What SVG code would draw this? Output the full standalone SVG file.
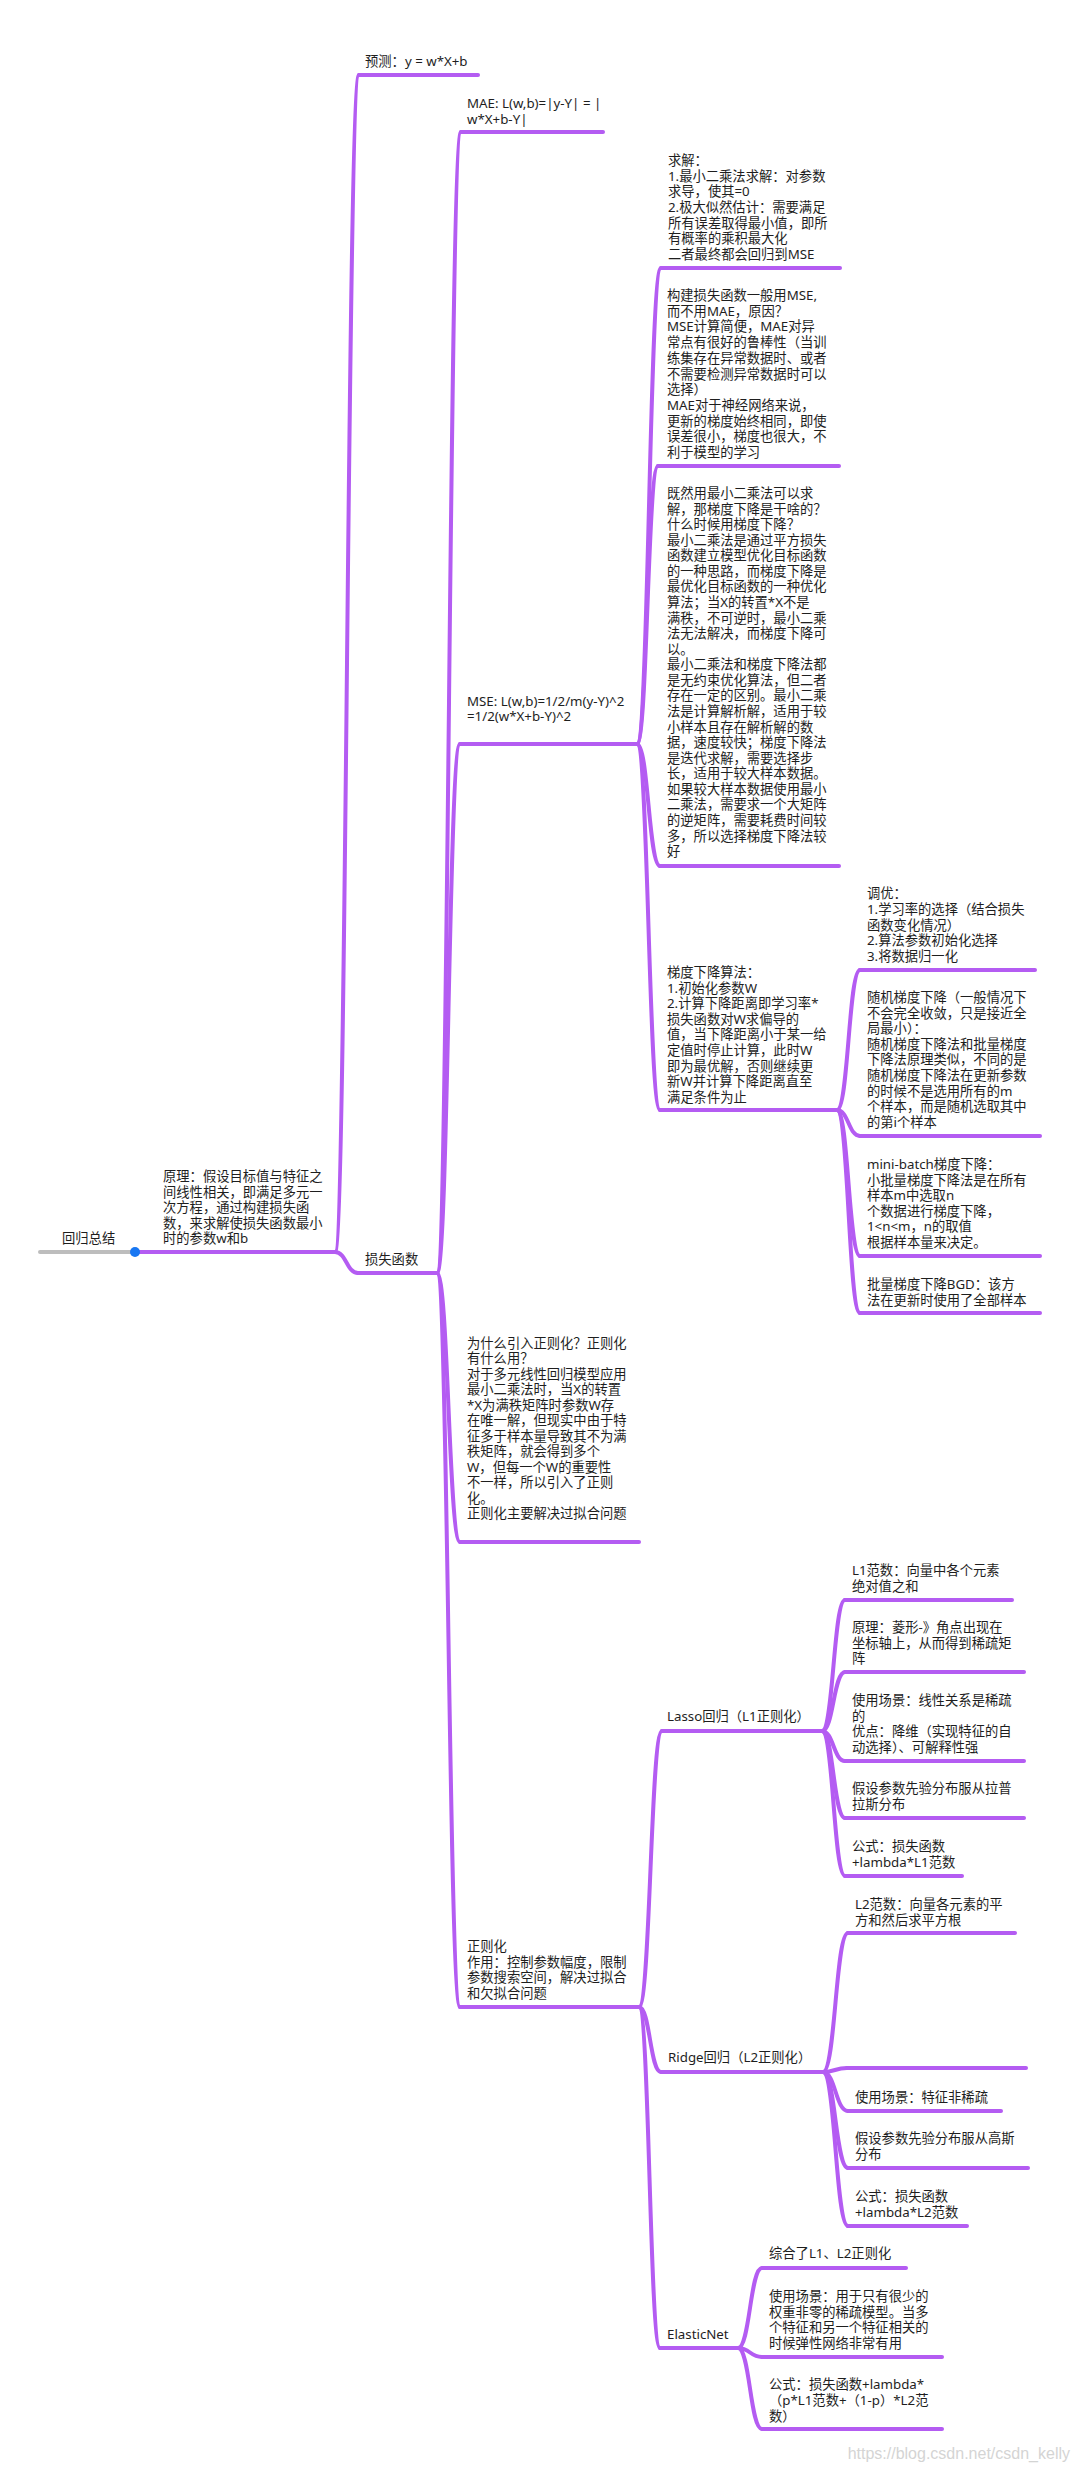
<svg xmlns="http://www.w3.org/2000/svg" width="1080" height="2471" viewBox="0 0 1080 2471">
<style>
text{font-family:"Noto Sans","Noto Sans CJK SC",sans-serif;font-size:13.3px;fill:#1e1e1e}
.u{stroke:#B45CF2;stroke-width:4;stroke-linecap:round;fill:none}
.c path{stroke:#B45CF2;stroke-width:4;stroke-linecap:round;fill:none}
.wm{font-family:"Liberation Sans",sans-serif;font-size:16px;fill:#d4d4d4}
</style>
<rect width="1080" height="2471" fill="#fff"/>
<g id="connectors" class="c">
<path d="M335 1252 C347 1252 347 75 359 75"/>
<path d="M335 1252 C346.5 1252 346.5 1273 358 1273"/>
<path d="M437 1273 C449 1273 449 132 461 132"/>
<path d="M437 1273 C448.5 1273 448.5 744 460 744"/>
<path d="M437 1273 C448.5 1273 448.5 1542 460 1542"/>
<path d="M437 1273 C448.5 1273 448.5 2007 460 2007"/>
<path d="M637 744 C649 744 649 268 661 268"/>
<path d="M637 744 C647.5 744 647.5 466 658 466"/>
<path d="M637 744 C648.5 744 648.5 866 660 866"/>
<path d="M637 744 C648.5 744 648.5 1110 660 1110"/>
<path d="M837 1110 C848.5 1110 848.5 970 860 970"/>
<path d="M837 1110 C848.5 1110 848.5 1136 860 1136"/>
<path d="M837 1110 C848.5 1110 848.5 1256 860 1256"/>
<path d="M837 1110 C848.5 1110 848.5 1313 860 1313"/>
<path d="M639 2007 C650.5 2007 650.5 1731 662 1731"/>
<path d="M639 2007 C650 2007 650 2072 661 2072"/>
<path d="M639 2007 C649.5 2007 649.5 2348 660 2348"/>
<path d="M822 1731 C833.5 1731 833.5 1600 845 1600"/>
<path d="M822 1731 C833.5 1731 833.5 1672 845 1672"/>
<path d="M822 1731 C833.5 1731 833.5 1761 845 1761"/>
<path d="M822 1731 C833.5 1731 833.5 1818 845 1818"/>
<path d="M822 1731 C833.5 1731 833.5 1876 845 1876"/>
<path d="M823 2072 C835.5 2072 835.5 1933 848 1933"/>
<path d="M823 2072 C835 2072 835 2068 847 2068"/>
<path d="M823 2072 C835.5 2072 835.5 2111 848 2111"/>
<path d="M823 2072 C835.5 2072 835.5 2168 848 2168"/>
<path d="M823 2072 C835.5 2072 835.5 2226 848 2226"/>
<path d="M738 2348 C750 2348 750 2268 762 2268"/>
<path d="M738 2348 C750 2348 750 2357 762 2357"/>
<path d="M738 2348 C750 2348 750 2429 762 2429"/>
</g>

<g id="root">
<line x1="40" y1="1252" x2="135" y2="1252" stroke="#BDBDBD" stroke-width="4" stroke-linecap="round"/>
<text x="62" y="1243">回归总结</text>
</g>
<g id="n-yuanli">
<line class="u" x1="135" y1="1252" x2="335" y2="1252"/>
<text x="163" y="1181">原理：假设目标值与特征之<tspan x="163" dy="15.5">间线性相关，即满足多元一</tspan><tspan x="163" dy="15.5">次方程，通过构建损失函</tspan><tspan x="163" dy="15.5">数，来求解使损失函数最小</tspan><tspan x="163" dy="15.5">时的参数w和b</tspan></text>
</g>
<circle id="root-dot" cx="135" cy="1252" r="5" fill="#1877F2"/>
<g id="n-yuce">
<line class="u" x1="359" y1="75" x2="478" y2="75"/>
<text x="365" y="66">预测：y = w*X+b</text>
</g>
<g id="n-sunshi">
<line class="u" x1="358" y1="1273" x2="437" y2="1273"/>
<text x="365" y="1264">损失函数</text>
</g>
<g id="n-mae">
<line class="u" x1="461" y1="132" x2="603" y2="132"/>
<text x="467" y="108">MAE: L(w,b)=|y-Y| = |<tspan x="467" dy="15.5">w*X+b-Y|</tspan></text>
</g>
<g id="n-mse">
<line class="u" x1="460" y1="744" x2="637" y2="744"/>
<text x="467" y="706">MSE: L(w,b)=1/2/m(y-Y)^2<tspan x="467" dy="15">=1/2(w*X+b-Y)^2</tspan></text>
</g>
<g id="n-why">
<line class="u" x1="460" y1="1542" x2="639" y2="1542"/>
<text x="467" y="1348">为什么引入正则化？正则化<tspan x="467" dy="15.45">有什么用？</tspan><tspan x="467" dy="15.45">对于多元线性回归模型应用</tspan><tspan x="467" dy="15.45">最小二乘法时，当X的转置</tspan><tspan x="467" dy="15.45">*X为满秩矩阵时参数W存</tspan><tspan x="467" dy="15.45">在唯一解，但现实中由于特</tspan><tspan x="467" dy="15.45">征多于样本量导致其不为满</tspan><tspan x="467" dy="15.45">秩矩阵，就会得到多个</tspan><tspan x="467" dy="15.45">W，但每一个W的重要性</tspan><tspan x="467" dy="15.45">不一样，所以引入了正则</tspan><tspan x="467" dy="15.45">化。</tspan><tspan x="467" dy="15.45">正则化主要解决过拟合问题</tspan></text>
</g>
<g id="n-zhengze">
<line class="u" x1="460" y1="2007" x2="639" y2="2007"/>
<text x="467" y="1951">正则化<tspan x="467" dy="15.67">作用：控制参数幅度，限制</tspan><tspan x="467" dy="15.67">参数搜索空间，解决过拟合</tspan><tspan x="467" dy="15.67">和欠拟合问题</tspan></text>
</g>
<g id="n-qiujie">
<line class="u" x1="661" y1="268" x2="840" y2="268"/>
<text x="668" y="165">求解：<tspan x="668" dy="15.67">1.最小二乘法求解：对参数</tspan><tspan x="668" dy="15.67">求导，使其=0</tspan><tspan x="668" dy="15.67">2.极大似然估计：需要满足</tspan><tspan x="668" dy="15.67">所有误差取得最小值，即所</tspan><tspan x="668" dy="15.67">有概率的乘积最大化</tspan><tspan x="668" dy="15.67">二者最终都会回归到MSE</tspan></text>
</g>
<g id="n-goujian">
<line class="u" x1="658" y1="466" x2="839" y2="466"/>
<text x="667" y="300">构建损失函数一般用MSE,<tspan x="667" dy="15.7">而不用MAE，原因？</tspan><tspan x="667" dy="15.7">MSE计算简便，MAE对异</tspan><tspan x="667" dy="15.7">常点有很好的鲁棒性（当训</tspan><tspan x="667" dy="15.7">练集存在异常数据时、或者</tspan><tspan x="667" dy="15.7">不需要检测异常数据时可以</tspan><tspan x="667" dy="15.7">选择）</tspan><tspan x="667" dy="15.7">MAE对于神经网络来说，</tspan><tspan x="667" dy="15.7">更新的梯度始终相同，即使</tspan><tspan x="667" dy="15.7">误差很小，梯度也很大，不</tspan><tspan x="667" dy="15.7">利于模型的学习</tspan></text>
</g>
<g id="n-jiran">
<line class="u" x1="660" y1="866" x2="839" y2="866"/>
<text x="667" y="498">既然用最小二乘法可以求<tspan x="667" dy="15.57">解，那梯度下降是干啥的？</tspan><tspan x="667" dy="15.57">什么时候用梯度下降？</tspan><tspan x="667" dy="15.57">最小二乘法是通过平方损失</tspan><tspan x="667" dy="15.57">函数建立模型优化目标函数</tspan><tspan x="667" dy="15.57">的一种思路，而梯度下降是</tspan><tspan x="667" dy="15.57">最优化目标函数的一种优化</tspan><tspan x="667" dy="15.57">算法；当X的转置*X不是</tspan><tspan x="667" dy="15.57">满秩，不可逆时，最小二乘</tspan><tspan x="667" dy="15.57">法无法解决，而梯度下降可</tspan><tspan x="667" dy="15.57">以。</tspan><tspan x="667" dy="15.57">最小二乘法和梯度下降法都</tspan><tspan x="667" dy="15.57">是无约束优化算法，但二者</tspan><tspan x="667" dy="15.57">存在一定的区别。最小二乘</tspan><tspan x="667" dy="15.57">法是计算解析解，适用于较</tspan><tspan x="667" dy="15.57">小样本且存在解析解的数</tspan><tspan x="667" dy="15.57">据，速度较快；梯度下降法</tspan><tspan x="667" dy="15.57">是迭代求解，需要选择步</tspan><tspan x="667" dy="15.57">长，适用于较大样本数据。</tspan><tspan x="667" dy="15.57">如果较大样本数据使用最小</tspan><tspan x="667" dy="15.57">二乘法，需要求一个大矩阵</tspan><tspan x="667" dy="15.57">的逆矩阵，需要耗费时间较</tspan><tspan x="667" dy="15.57">多，所以选择梯度下降法较</tspan><tspan x="667" dy="15.57">好</tspan></text>
</g>
<g id="n-tidu">
<line class="u" x1="660" y1="1110" x2="837" y2="1110"/>
<text x="667" y="977">梯度下降算法：<tspan x="667" dy="15.6">1.初始化参数W</tspan><tspan x="667" dy="15.6">2.计算下降距离即学习率*</tspan><tspan x="667" dy="15.6">损失函数对W求偏导的</tspan><tspan x="667" dy="15.6">值，当下降距离小于某一给</tspan><tspan x="667" dy="15.6">定值时停止计算，此时W</tspan><tspan x="667" dy="15.6">即为最优解，否则继续更</tspan><tspan x="667" dy="15.6">新W并计算下降距离直至</tspan><tspan x="667" dy="15.6">满足条件为止</tspan></text>
</g>
<g id="n-tiaoyou">
<line class="u" x1="860" y1="970" x2="1035" y2="970"/>
<text x="867" y="898">调优：<tspan x="867" dy="15.75">1.学习率的选择（结合损失</tspan><tspan x="867" dy="15.75">函数变化情况）</tspan><tspan x="867" dy="15.75">2.算法参数初始化选择</tspan><tspan x="867" dy="15.75">3.将数据归一化</tspan></text>
</g>
<g id="n-sgd">
<line class="u" x1="860" y1="1136" x2="1040" y2="1136"/>
<text x="867" y="1002">随机梯度下降（一般情况下<tspan x="867" dy="15.6">不会完全收敛，只是接近全</tspan><tspan x="867" dy="15.6">局最小）：</tspan><tspan x="867" dy="15.6">随机梯度下降法和批量梯度</tspan><tspan x="867" dy="15.6">下降法原理类似，不同的是</tspan><tspan x="867" dy="15.6">随机梯度下降法在更新参数</tspan><tspan x="867" dy="15.6">的时候不是选用所有的m</tspan><tspan x="867" dy="15.6">个样本，而是随机选取其中</tspan><tspan x="867" dy="15.6">的第i个样本</tspan></text>
</g>
<g id="n-minibatch">
<line class="u" x1="860" y1="1256" x2="1040" y2="1256"/>
<text x="867" y="1169">mini-batch梯度下降：<tspan x="867" dy="15.6">小批量梯度下降法是在所有</tspan><tspan x="867" dy="15.6">样本m中选取n</tspan><tspan x="867" dy="15.6">个数据进行梯度下降，</tspan><tspan x="867" dy="15.6">1&lt;n&lt;m，n的取值</tspan><tspan x="867" dy="15.6">根据样本量来决定。</tspan></text>
</g>
<g id="n-bgd">
<line class="u" x1="860" y1="1313" x2="1040" y2="1313"/>
<text x="867" y="1289">批量梯度下降BGD：该方<tspan x="867" dy="15.5">法在更新时使用了全部样本</tspan></text>
</g>
<g id="n-lasso">
<line class="u" x1="662" y1="1731" x2="822" y2="1731"/>
<text x="667" y="1721">Lasso回归（L1正则化）</text>
</g>
<g id="n-l1">
<line class="u" x1="845" y1="1600" x2="1012" y2="1600"/>
<text x="852" y="1575">L1范数：向量中各个元素<tspan x="852" dy="15.7">绝对值之和</tspan></text>
</g>
<g id="n-lingxing">
<line class="u" x1="845" y1="1672" x2="1024" y2="1672"/>
<text x="852" y="1632">原理：菱形-》角点出现在<tspan x="852" dy="15.6">坐标轴上，从而得到稀疏矩</tspan><tspan x="852" dy="15.6">阵</tspan></text>
</g>
<g id="n-lasso-use">
<line class="u" x1="845" y1="1761" x2="1024" y2="1761"/>
<text x="852" y="1705">使用场景：线性关系是稀疏<tspan x="852" dy="15.7">的</tspan><tspan x="852" dy="15.7">优点：降维（实现特征的自</tspan><tspan x="852" dy="15.7">动选择）、可解释性强</tspan></text>
</g>
<g id="n-laplace">
<line class="u" x1="845" y1="1818" x2="1024" y2="1818"/>
<text x="852" y="1793">假设参数先验分布服从拉普<tspan x="852" dy="15.7">拉斯分布</tspan></text>
</g>
<g id="n-l1-formula">
<line class="u" x1="845" y1="1876" x2="962" y2="1876"/>
<text x="852" y="1851">公式：损失函数<tspan x="852" dy="15.7">+lambda*L1范数</tspan></text>
</g>
<g id="n-ridge">
<line class="u" x1="661" y1="2072" x2="823" y2="2072"/>
<text x="668" y="2062">Ridge回归（L2正则化）</text>
</g>
<g id="n-l2">
<line class="u" x1="848" y1="1933" x2="1015" y2="1933"/>
<text x="855" y="1909">L2范数：向量各元素的平<tspan x="855" dy="15.5">方和然后求平方根</tspan></text>
</g>
<g id="n-ridge-empty">
<line class="u" x1="847" y1="2068" x2="1026" y2="2068"/>
</g>
<g id="n-ridge-use">
<line class="u" x1="848" y1="2111" x2="1001" y2="2111"/>
<text x="855" y="2102">使用场景：特征非稀疏</text>
</g>
<g id="n-gauss">
<line class="u" x1="848" y1="2168" x2="1028" y2="2168"/>
<text x="855" y="2143">假设参数先验分布服从高斯<tspan x="855" dy="15.7">分布</tspan></text>
</g>
<g id="n-l2-formula">
<line class="u" x1="848" y1="2226" x2="967" y2="2226"/>
<text x="855" y="2201">公式：损失函数<tspan x="855" dy="15.7">+lambda*L2范数</tspan></text>
</g>
<g id="n-elastic">
<line class="u" x1="660" y1="2348" x2="738" y2="2348"/>
<text x="667" y="2339">ElasticNet</text>
</g>
<g id="n-zonghe">
<line class="u" x1="762" y1="2268" x2="906" y2="2268"/>
<text x="769" y="2258">综合了L1、L2正则化</text>
</g>
<g id="n-elastic-use">
<line class="u" x1="762" y1="2357" x2="942" y2="2357"/>
<text x="769" y="2301">使用场景：用于只有很少的<tspan x="769" dy="15.67">权重非零的稀疏模型。当多</tspan><tspan x="769" dy="15.67">个特征和另一个特征相关的</tspan><tspan x="769" dy="15.67">时候弹性网络非常有用</tspan></text>
</g>
<g id="n-elastic-formula">
<line class="u" x1="762" y1="2429" x2="942" y2="2429"/>
<text x="769" y="2389">公式：损失函数+lambda*<tspan x="769" dy="15.8">（p*L1范数+（1-p）*L2范</tspan><tspan x="769" dy="15.8">数）</tspan></text>
</g>
<text class="wm" x="1070" y="2459" text-anchor="end">https://blog.csdn.net/csdn_kelly</text>
</svg>
